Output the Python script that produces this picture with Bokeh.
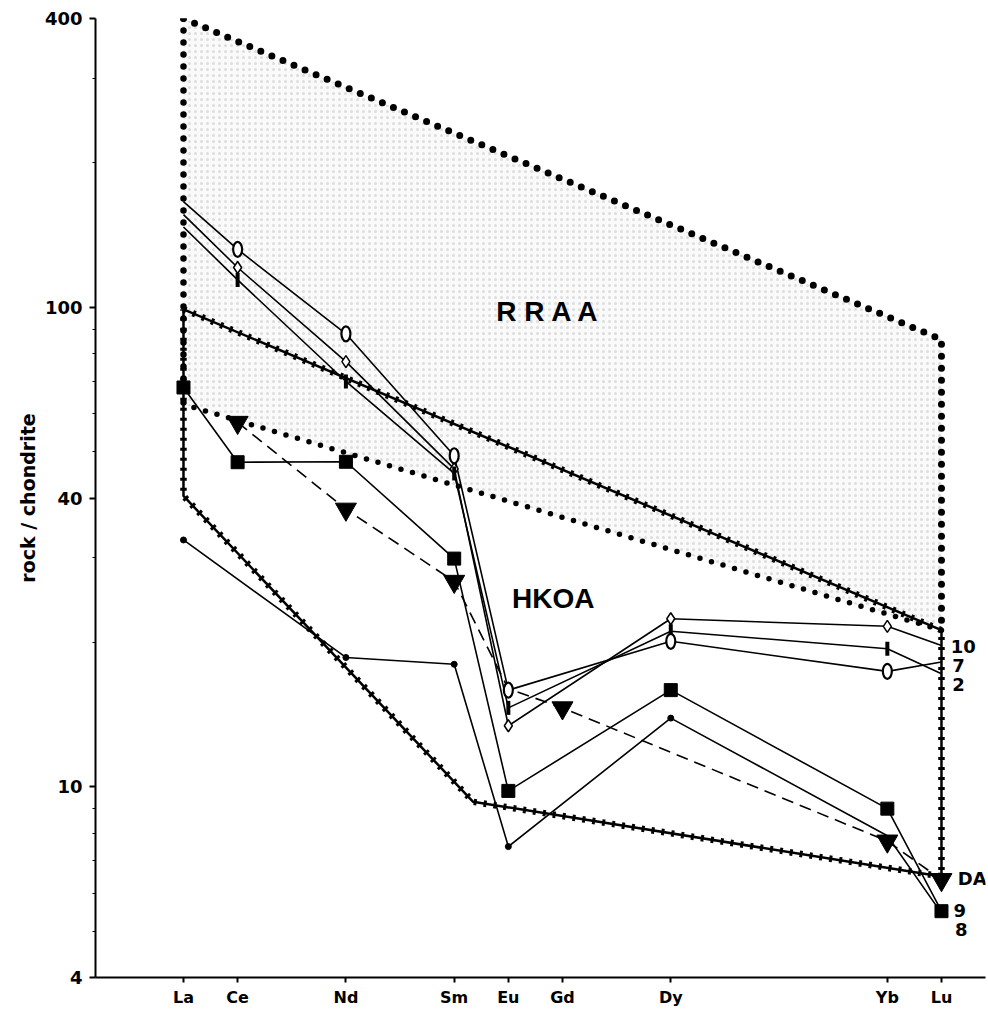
import numpy as np
from bokeh.plotting import figure
from bokeh.models import Range1d, FixedTicker
from bokeh.core.properties import value
from bokeh.embed import file_html
from bokeh.resources import INLINE

# ---------------- data ----------------
elements = ["La", "Ce", "Nd", "Sm", "Eu", "Gd", "Dy", "Yb", "Lu"]
atomic_numbers = [57, 58, 60, 62, 63, 64, 66, 70, 71]
Z = dict(zip(elements, atomic_numbers))

# samples with high LREE (labels 10, 7, 2)
s10_el = ["La", "Ce", "Nd", "Sm", "Eu", "Dy", "Yb", "Lu"]
s10_val = [156, 121, 77, 46, 13.4, 22.4, 21.6, 19.7]
s7_el = ["La", "Ce", "Nd", "Sm", "Eu", "Dy", "Yb", "Lu"]
s7_val = [147, 114, 70, 45, 14.6, 21.1, 19.4, 17.2]
s2_el = ["La", "Ce", "Nd", "Sm", "Eu", "Dy", "Yb", "Lu"]
s2_val = [166, 132, 88, 49, 15.9, 20.1, 17.4, 18.2]

# samples 9 (squares) and 8 (dots)
s9_el = ["La", "Ce", "Nd", "Sm", "Eu", "Dy", "Yb", "Lu"]
s9_val = [68, 47.5, 47.6, 29.9, 9.8, 15.9, 9.0, 5.5]
s8_el = ["La", "Nd", "Sm", "Eu", "Dy", "Yb", "Lu"]
s8_val = [32.7, 18.6, 18.0, 7.5, 13.9, 7.9, 5.45]

# DA (dashed, inverted triangles)
da_el = ["Ce", "Nd", "Sm", "Eu", "Gd", "Yb", "Lu"]
da_val = [57.5, 37.9, 26.8, 16.0, 14.6, 7.7, 6.4]
da_marker_el = ["Ce", "Nd", "Sm", "Gd", "Yb", "Lu"]
da_marker_val = [57.5, 37.9, 26.8, 14.6, 7.7, 6.4]

# fields (atomic-number position, chondrite-normalised value)
rraa_x = [57, 71, 71, 57, 57]
rraa_y = [400, 85.6, 21.2, 62.7, 400]
hkoa_x = [57, 71, 71, 62.35, 57, 57]
hkoa_y = [99, 21.2, 6.5, 9.3, 40.4, 99]

# text annotations
field_labels = ["R R A A", "HKOA"]
field_lab_x = [63.74, 63.83]
field_lab_y = [98, 24.7]
end_labels = ["10", "7", "2", "DA", "9", "8"]
end_lab_x = [71.17, 71.2, 71.2, 71.3, 71.22, 71.25]
end_lab_y = [19.6, 17.9, 16.3, 6.45, 5.51, 5.03]

y_major = [4, 10, 40, 100, 400]
y_minor = [5, 6, 7, 8, 9, 20, 30, 50, 60, 70, 80, 90, 200, 300]

FONT = value("Liberation Sans")
WIDE = "DejaVu Sans"


def xs(els):
    return [Z[e] for e in els]


p = figure(width=988, height=1009,
           x_range=Range1d(55.375, 71.813), y_range=Range1d(4, 400),
           y_axis_type="log", output_backend="svg", toolbar_location=None,
           min_border_left=95, min_border_right=3, min_border_top=18,
           min_border_bottom=29)
p.outline_line_color = None
p.xgrid.visible = False
p.ygrid.visible = False
p.background_fill_color = "white"
p.border_fill_color = "white"

# ---- RRAA field (stippled, big dotted outline) ----
p.patch(rraa_x, rraa_y, fill_color="#fafafa", line_color=None,
        hatch_pattern="dot", hatch_color="#a0a0a0", hatch_scale=6,
        hatch_weight=1, hatch_alpha=0.32)
p.line(rraa_x[:3], rraa_y[:3], line_color="black", line_width=7,
       line_dash="0 12", line_cap="round")
p.line([rraa_x[4], rraa_x[3]], [rraa_y[4], rraa_y[3]], line_color="black",
       line_width=6.5, line_dash="0 12", line_cap="round")
p.line(rraa_x[2:4], rraa_y[2:4], line_color="black", line_width=5.5,
       line_dash="0 12", line_cap="round")

# ---- HKOA field (solid line with ticks) ----
p.line(hkoa_x, hkoa_y, line_color="black", line_width=2.5)
p.line(hkoa_x, hkoa_y, line_color="black", line_width=6.5, line_dash="3 7")

# ---- samples ----
LW = 1.6
for els, vals in [(s10_el, s10_val), (s7_el, s7_val), (s2_el, s2_val)]:
    p.line(xs(els), vals, line_color="black", line_width=LW)
p.line(xs(s9_el), s9_val, line_color="black", line_width=LW)
p.line(xs(s8_el), s8_val, line_color="black", line_width=LW)
p.line(xs(da_el), da_val, line_color="black", line_width=LW, line_dash="12 7")

# markers
p.scatter(xs(s10_el[1:-1]), s10_val[1:-1], marker="diamond", size=12,
          fill_color="white", line_color="black", line_width=1.5)
p.scatter(xs(s7_el[1:-1]), s7_val[1:-1], marker="dash", angle=np.pi / 2,
          size=14, line_color="black", line_width=4)
p.ellipse(xs(s2_el[1:-1]), s2_val[1:-1], width=9, height=15,
          width_units="screen", height_units="screen",
          fill_color="white", line_color="black", line_width=2.2)
p.scatter(xs(s9_el), s9_val, marker="square", size=13,
          fill_color="black", line_color="black")
p.scatter(xs(s8_el[:5]), s8_val[:5], marker="circle", size=6,
          fill_color="black", line_color="black")
p.scatter(xs(da_marker_el), da_marker_val, marker="inverted_triangle",
          size=21, fill_color="black", line_color="black")

# texts
p.text(field_lab_x, field_lab_y, text=field_labels, text_font=FONT,
       text_font_style="bold", text_font_size="28px", text_align="center",
       text_baseline="middle", text_color="black")
p.text(end_lab_x, end_lab_y, text=end_labels, text_font=value(WIDE),
       text_font_style="bold", text_font_size="18px", text_align="left",
       text_baseline="middle", text_color="black")

# ---- axes ----
xa = p.xaxis[0]
xa.ticker = FixedTicker(ticks=atomic_numbers)
xa.major_label_overrides = {z: e for z, e in zip(atomic_numbers, elements)}
xa.major_label_text_font = WIDE
xa.major_label_text_font_style = "bold"
xa.major_label_text_font_size = "16px"
xa.major_label_text_color = "black"
xa.major_label_standoff = 5
xa.major_tick_out = 5
xa.major_tick_in = 0
xa.minor_tick_line_color = None
xa.axis_line_width = 2
xa.axis_line_color = "black"
xa.major_tick_line_color = "black"
xa.major_tick_line_width = 2

ya = p.yaxis[0]
ya.ticker = FixedTicker(ticks=y_major, minor_ticks=y_minor)
ya.major_label_overrides = {v: str(v) for v in y_major}
ya.major_label_text_font = WIDE
ya.major_label_text_font_style = "bold"
ya.major_label_text_font_size = "18px"
ya.major_label_text_color = "black"
ya.major_label_standoff = 7
ya.major_tick_out = 6
ya.major_tick_in = 0
ya.minor_tick_out = 3
ya.minor_tick_in = 0
ya.axis_line_width = 2
ya.axis_line_color = "black"
ya.major_tick_line_color = "black"
ya.minor_tick_line_color = "black"
ya.major_tick_line_width = 2
ya.axis_label = "rock / chondrite"
ya.axis_label_text_font = WIDE
ya.axis_label_text_font_style = "bold"
ya.axis_label_text_font_size = "19px"
ya.axis_label_text_color = "black"
ya.axis_label_standoff = 3

open("out.html", "w").write(file_html(p, INLINE))
